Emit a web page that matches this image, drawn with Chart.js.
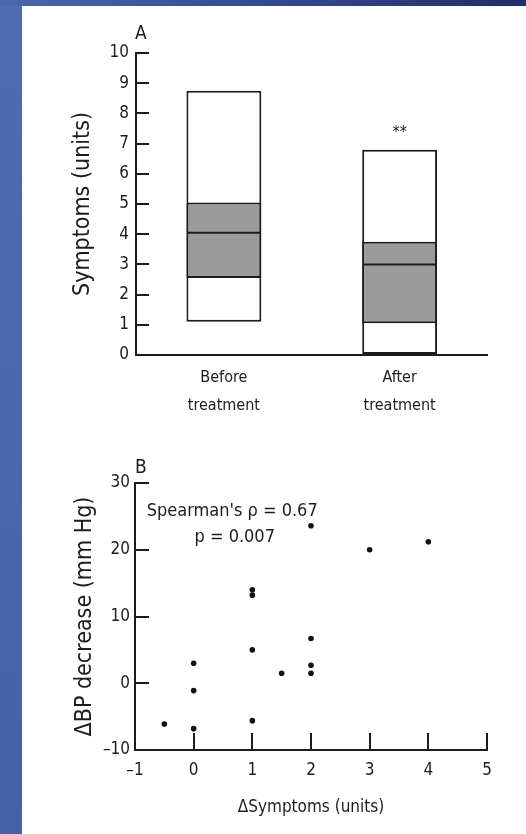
<!DOCTYPE html>
<html>
<head>
<meta charset="utf-8">
<script src="https://cdn.jsdelivr.net/npm/chart.js@4.4.0/dist/chart.umd.min.js"></script>
<style>
  html, body { margin: 0; padding: 0; }
  body { width: 526px; height: 834px; position: relative; background: #fff; overflow: hidden; }
  #leftBand { position: absolute; left: 0; top: 0; width: 22px; height: 834px; background: linear-gradient(to bottom, #4f6cb2, #4761a6); }
  #topBand { position: absolute; left: 0; top: 0; width: 526px; height: 6px; background: linear-gradient(to right, #4b68ab, #1e2e69); }
  canvas { position: absolute; left: 0; }
  #chartA { top: 0; }
  #chartB { top: 430px; }
</style>
</head>
<body>
<div id="leftBand"></div>
<div id="topBand"></div>
<canvas id="chartA" width="526" height="430"></canvas>
<canvas id="chartB" width="526" height="404"></canvas>
<script>
// Panel A: symptom boxes (min, quartiles, median, max)
var categories = [['Before', 'treatment'], ['After', 'treatment']];
var boxMin = [1.1, 0];
var boxQ1 = [2.55, 1.05];
var boxMedian = [4.05, 3.0];
var boxQ3 = [5.05, 3.75];
var boxMax = [8.75, 6.8];
var symptomTicks = [0, 1, 2, 3, 4, 5, 6, 7, 8, 9, 10];

// Panel B: change in symptoms vs change in BP
var deltaSymptoms = [-0.5, 0, 0, 0, 1, 1, 1, 1, 1.5, 2, 2, 2, 2, 3, 4];
var deltaBP = [-6.1, 3.0, -1.1, -6.8, 14.0, 13.2, 5.0, -5.6, 1.5, 23.6, 6.7, 2.7, 1.5, 20.0, 21.2];
var deltaSymptomTicks = [-1, 0, 1, 2, 3, 4, 5];
var bpTicks = [-10, 0, 10, 20, 30];

// Text
var panelLetterA = 'A';
var panelLetterB = 'B';
var significance = '**';
var spearmanText = "Spearman's \u03c1 = 0.67";
var pValueText = 'p = 0.007';

var fontFamily = "'DejaVu Sans Condensed', 'Liberation Sans Narrow', 'DejaVu Sans', sans-serif";
var ink = '#1c1c1c';
var boxGray = '#9b9b9b';

Chart.defaults.font.family = fontFamily;
Chart.defaults.color = ink;

function dashMinus(value) {
  return String(value).replace('-', '\u2013');
}

// floating bar from low to high (box body)
function boxRange(low, high, color, order) {
  return {
    data: low.map(function (v, i) { return [v, high[i]]; }),
    backgroundColor: color,
    borderColor: ink,
    borderWidth: 2,
    borderSkipped: false,
    grouped: false,
    barPercentage: 0.426,
    categoryPercentage: 1,
    order: order
  };
}

// labels drawn on top of panel A
var panelTextA = {
  id: 'panelTextA',
  afterDraw: function (chart) {
    var ctx = chart.ctx;
    var area = chart.chartArea;
    ctx.save();
    ctx.fillStyle = ink;
    ctx.textBaseline = 'middle';
    ctx.font = '19px ' + fontFamily;
    ctx.textAlign = 'left';
    ctx.fillText(panelLetterA, area.left - 1, area.top - 19);
    ctx.font = '16px ' + fontFamily;
    ctx.textAlign = 'center';
    ctx.fillText(significance, chart.scales.x.getPixelForValue(1), chart.scales.y.getPixelForValue(7.35));
    ctx.restore();
  }
};

// labels drawn on top of panel B
var panelTextB = {
  id: 'panelTextB',
  afterDraw: function (chart) {
    var ctx = chart.ctx;
    var area = chart.chartArea;
    var x = chart.scales.x;
    var y = chart.scales.y;
    ctx.save();
    ctx.fillStyle = ink;
    ctx.textBaseline = 'middle';
    ctx.font = '19px ' + fontFamily;
    ctx.textAlign = 'left';
    ctx.fillText(panelLetterB, area.left, area.top - 15);
    ctx.font = '18px ' + fontFamily;
    ctx.fillText(spearmanText, x.getPixelForValue(-0.8), y.getPixelForValue(25.7));
    ctx.textAlign = 'center';
    ctx.fillText(pValueText, x.getPixelForValue(0.7), y.getPixelForValue(21.9));
    ctx.restore();
  }
};

// PANEL A
var chartA = new Chart(document.getElementById('chartA'), {
  type: 'bar',
  data: {
    labels: categories,
    datasets: [
      boxRange(boxMin, boxMax, '#fff', 3),
      boxRange(boxQ1, boxQ3, boxGray, 2),
      {
        // median as a horizontal line marker across the box
        type: 'line',
        data: boxMedian,
        showLine: false,
        pointStyle: 'line',
        pointRadius: 36.5,
        pointHoverRadius: 36.5,
        pointBorderColor: ink,
        pointBorderWidth: 2,
        order: 1
      }
    ]
  },
  options: {
    responsive: false,
    animation: false,
    layout: { padding: { top: 53, right: 38, left: 0, bottom: 0 } },
    plugins: { legend: { display: false }, tooltip: { enabled: false } },
    scales: {
      x: {
        grid: { drawOnChartArea: false, drawTicks: false },
        border: { display: true, color: ink, width: 2 },
        ticks: { padding: 9, color: ink, font: { size: 16, lineHeight: 1.75 } },
        afterFit: function (scale) { scale.height = 75; }
      },
      y: {
        min: 0,
        max: 10,
        afterBuildTicks: function (scale) {
          scale.ticks = symptomTicks.map(function (v) { return { value: v }; });
        },
        grid: { drawOnChartArea: false, tickLength: -13, color: ink, lineWidth: 2 },
        border: { display: true, color: ink, width: 2 },
        ticks: { padding: 20, color: ink, font: { size: 17 } },
        title: { display: true, text: 'Symptoms (units)', color: ink, font: { size: 23 }, padding: { top: 69, bottom: 0 } },
        afterFit: function (scale) { scale.width = 136; }
      }
    }
  },
  plugins: [panelTextA]
});

// PANEL B
var points = deltaSymptoms.map(function (v, i) { return { x: v, y: deltaBP[i] }; });

var chartB = new Chart(document.getElementById('chartB'), {
  type: 'scatter',
  data: {
    datasets: [{
      data: points,
      pointStyle: 'circle',
      pointRadius: 2.8,
      backgroundColor: '#111',
      borderWidth: 0
    }]
  },
  options: {
    responsive: false,
    animation: false,
    layout: { padding: { top: 53, right: 39, left: 0, bottom: 0 } },
    plugins: { legend: { display: false }, tooltip: { enabled: false } },
    scales: {
      x: {
        type: 'linear',
        min: -1,
        max: 5,
        afterBuildTicks: function (scale) {
          scale.ticks = deltaSymptomTicks.map(function (v) { return { value: v }; });
        },
        grid: { drawOnChartArea: false, tickLength: -17, color: ink, lineWidth: 2 },
        border: { display: true, color: ink, width: 2 },
        ticks: { padding: 27, color: ink, font: { size: 17 }, callback: dashMinus },
        title: { display: true, text: '\u0394Symptoms (units)', color: ink, font: { size: 17 }, padding: { top: 0, bottom: 16 } },
        afterFit: function (scale) { scale.height = 84; }
      },
      y: {
        min: -10,
        max: 30,
        afterBuildTicks: function (scale) {
          scale.ticks = bpTicks.map(function (v) { return { value: v }; });
        },
        grid: { drawOnChartArea: false, tickLength: -14, color: ink, lineWidth: 2 },
        border: { display: true, color: ink, width: 2 },
        ticks: { padding: 19, color: ink, font: { size: 17 }, callback: dashMinus },
        title: { display: true, text: '\u0394BP decrease (mm Hg)', color: ink, font: { size: 23 }, padding: { top: 71, bottom: 0 } },
        afterFit: function (scale) { scale.width = 135; }
      }
    }
  },
  plugins: [panelTextB]
});
</script>
</body>
</html>
